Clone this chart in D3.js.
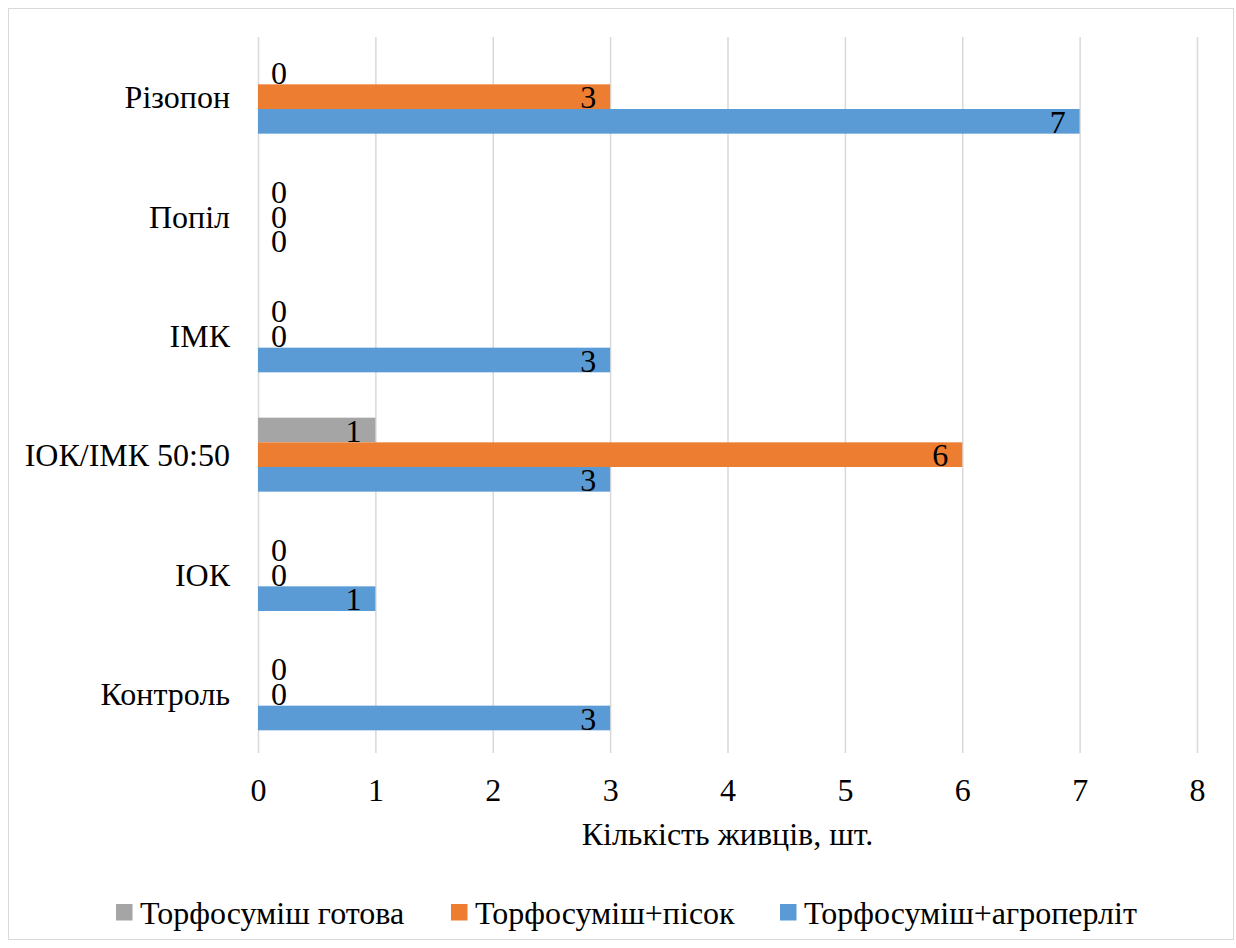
<!DOCTYPE html>
<html>
<head>
<meta charset="utf-8">
<script src="https://cdn.jsdelivr.net/npm/d3@7/dist/d3.min.js"></script>
<style>
  html, body { margin: 0; padding: 0; background: #fff; }
  svg text { font-family: "Liberation Serif", "Times New Roman", Tinos, "DejaVu Serif", serif; }
</style>
</head>
<body>
<svg id="chart" width="1236" height="948"></svg>
<script>
// Treatments, listed top to bottom as drawn
const categories = ["Різопон", "Попіл", "ІМК", "ІОК/ІМК 50:50", "ІОК", "Контроль"];
// Number of cuttings per substrate
const seriesNames = ["Торфосуміш готова", "Торфосуміш+пісок", "Торфосуміш+агроперліт"];
const ready = [0, 0, 0, 1, 0, 0];
const sand = [3, 0, 0, 6, 0, 0];
const perlite = [7, 0, 3, 3, 1, 3];
const seriesColors = ["#A5A5A5", "#ED7D31", "#5B9BD5"];
const xTicks = [0, 1, 2, 3, 4, 5, 6, 7, 8];
const xTitle = "Кількість живців, шт.";

const seriesValues = [ready, sand, perlite];
const FONT = 32;

const svg = d3.select("#chart");

// outer frame
svg.append("rect")
  .attr("x", 8.5).attr("y", 8.5)
  .attr("width", 1225).attr("height", 931)
  .attr("fill", "#fff")
  .attr("stroke", "#D9D9D9").attr("stroke-width", 1);

const plot = { left: 258, right: 1197, top: 37, bottom: 753 };

const x = d3.scaleLinear().domain([0, 8]).range([plot.left, plot.right]);
const y = d3.scaleBand().domain(categories)
  .range([plot.top, plot.bottom])
  .paddingInner(0.38).paddingOuter(0.19);
const ySub = d3.scaleBand().domain(seriesNames).range([0, y.bandwidth()]);

// vertical gridlines
svg.append("g")
  .selectAll("line")
  .data(xTicks)
  .join("line")
  .attr("x1", d => x(d) + 0.5).attr("x2", d => x(d) + 0.5)
  .attr("y1", plot.top).attr("y2", plot.bottom)
  .attr("stroke", "#D9D9D9").attr("stroke-width", 1.5);

// x axis tick labels
const xAxis = d3.axisBottom(x).tickValues(xTicks).tickSize(0).tickPadding(0);
const gx = svg.append("g").attr("transform", `translate(0, ${plot.bottom + 48})`).call(xAxis);
gx.attr("font-family", null).attr("font-size", null);
gx.select(".domain").remove();
gx.selectAll("text")
  .attr("dy", null)
  .attr("y", 0)
  .attr("font-size", FONT).attr("fill", "#000");

// category labels
const yAxis = d3.axisLeft(y).tickSize(0).tickPadding(0);
const gy = svg.append("g").attr("transform", `translate(${plot.left - 28}, 0)`).call(yAxis);
gy.attr("font-family", null).attr("font-size", null);
gy.select(".domain").remove();
gy.selectAll("text")
  .attr("dy", "0.36em")
  .attr("font-size", FONT).attr("fill", "#000");

// bars and value labels
seriesNames.forEach((name, si) => {
  const vals = seriesValues[si];
  const rows = categories.map((c, i) => ({ c, v: vals[i] }));
  const g = svg.append("g");
  g.selectAll("rect")
    .data(rows)
    .join("rect")
    .attr("x", x(0))
    .attr("y", d => y(d.c) + ySub(name))
    .attr("width", d => x(d.v) - x(0))
    .attr("height", ySub.bandwidth())
    .attr("fill", seriesColors[si]);
  g.selectAll("text")
    .data(rows)
    .join("text")
    .attr("x", d => d.v === 0 ? x(0) + 13 : x(d.v) - 14)
    .attr("y", d => y(d.c) + ySub(name) + ySub.bandwidth() / 2)
    .attr("dy", "0.36em")
    .attr("text-anchor", d => d.v === 0 ? "start" : "end")
    .attr("font-size", FONT).attr("fill", "#000")
    .text(d => d.v);
});

// axis title
svg.append("text")
  .attr("x", (plot.left + plot.right) / 2)
  .attr("y", 845)
  .attr("text-anchor", "middle")
  .attr("font-size", FONT).attr("fill", "#000")
  .text(xTitle);

// legend
const legendX = [116, 451, 780];
const lg = svg.append("g");
seriesNames.forEach((name, i) => {
  lg.append("rect")
    .attr("x", legendX[i]).attr("y", 904)
    .attr("width", 16.5).attr("height", 16.5)
    .attr("fill", seriesColors[i]);
  lg.append("text")
    .attr("x", legendX[i] + 24).attr("y", 924)
    .attr("font-size", FONT).attr("fill", "#000")
    .text(name);
});
</script>
</body>
</html>
